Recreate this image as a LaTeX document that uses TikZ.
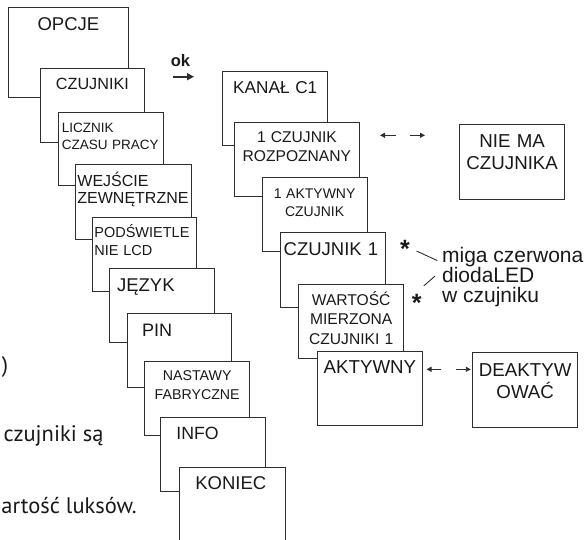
\documentclass[tikz,border=0pt]{standalone}
\usepackage{fontspec}
\setmainfont{Liberation Sans}
\newfontfamily\bodyfont{PT Sans}
\usepackage{xcolor}
\usepackage{tikz}
\usetikzlibrary{arrows.meta}
\definecolor{ink}{gray}{0.18}
\definecolor{txt}{gray}{0.1}
\tikzset{every node/.append style={text=txt}}

\begin{document}
\begin{tikzpicture}[x=1pt, y=-1pt, line width=0.8pt,
    menu/.style={draw=ink, fill=white, anchor=north west, inner sep=0pt, text width=105pt, align=center, text height=21.5pt, text depth=52.5pt},
    lft/.style={align=left, inner xsep=#1},
    big/.style={font=\fontsize{18.5}{22.4}\selectfont},
    mid/.style={font=\fontsize{15.6}{18.6}\selectfont},
    small/.style={font=\fontsize{14}{18.2}\selectfont},
    nav/.style={draw=ink, line width=0.9pt, -{Triangle[length=5pt, width=5pt]}},
    star/.style={font=\bfseries\fontsize{25}{25}\selectfont, inner sep=0pt, anchor=base},
    note/.style={font=\fontsize{21}{20}\selectfont, inner sep=0pt, anchor=base west},
    frag/.style={font=\bodyfont\fontsize{22.5}{26}\selectfont, inner sep=0pt}]
    \useasboundingbox (0,0) rectangle (587,539);
    % main menu, one box over the next
    \node[menu, big, text width=120pt, text height=23.5pt, text depth=66.5pt] (opcje) at (8,7) {OPCJE};
    \node[menu, font=\fontsize{16.2}{19}\selectfont, text width=104pt] (czujniki) at (40,68) {CZUJNIKI};
    \node[menu, lft=3.5pt, text width=98pt, font=\fontsize{13.5}{17}\selectfont, text height=20pt, text depth=53pt] (licznik) at (58,112) {LICZNIK\\CZASU PRACY};
    \node[menu, lft=2pt, text width=111.5pt, font=\fontsize{16}{17}\selectfont, text height=21.7pt, text depth=53.3pt] (wejscie) at (75,164) {WEJŚCIE\\ZEWNĘTRZNE};
    \node[menu, lft=2.3pt, text width=99.7pt, font=\fontsize{14.5}{17.6}\selectfont, text height=19.8pt, text depth=54.2pt] (podsw) at (91.7,217.3) {PODŚWIETLE\\NIE LCD};
    \node[menu, big, lft=7.7pt, text width=89.2pt, text height=22.3pt, text depth=51.7pt] (jezyk) at (109,268.3) {JĘZYK};
    \node[menu, lft=15pt, text width=74.3pt, font=\fontsize{18}{22}\selectfont, text height=23pt, text depth=51pt] (pin) at (126.7,313.3) {PIN};
    \node[menu, font=\fontsize{14.2}{18.3}\selectfont, text height=19.3pt, text depth=55pt] (nastawy) at (144.3,361) {NASTAWY\\FABRYCZNE};
    \node[menu, lft=16pt, text width=73.3pt, font=\fontsize{17.7}{21}\selectfont, text height=21.7pt, text depth=52.3pt] (info) at (160,417.3) {INFO};
    \node[menu, big, lft=15.7pt, text width=74pt, text height=22.5pt, text depth=57.5pt] (koniec) at (179.3,466.7) {KONIEC};
    % ok
    \node[font=\bfseries\fontsize{16.5}{18}\selectfont, inner sep=0pt, anchor=base] (ok) at (180.4,66.7) {ok};
    \coordinate (okA) at (172.7,76.7);
    \coordinate (okB) at (194,76.7);
    \draw[draw=ink, line width=1.6pt, -{Triangle[length=7pt, width=7pt]}] (okA) -- (okB);
    % sensor branch
    \node[menu, lft=10.5pt, text width=84pt, font=\fontsize{17.2}{20.6}\selectfont, text height=22.2pt, text depth=52.1pt] (kanal) at (222.3,70.7) {KANAŁ~C1};
    \node[menu, mid, text width=125pt, text height=20.6pt, text depth=53.7pt] (rozp) at (234,121.7) {1 CZUJNIK\\ROZPOZNANY};
    \node[menu, small, text height=21pt] (aktcz) at (261.7,177.3) {1 AKTYWNY\\CZUJNIK};
    \node[menu, big, lft=3.3pt, text width=98.4pt, text height=22.6pt, text depth=51.8pt] (cz1) at (280,232.3) {CZUJNIK~1};
    \node[menu, font=\fontsize{15.6}{19.5}\selectfont, text height=20.3pt, text depth=53.1pt] (wart) at (298.3,284.3) {WARTOŚĆ\\MIERZONA\\CZUJNIKI 1};
    \node[menu, font=\fontsize{18.7}{22.4}\selectfont, text width=104.4pt, text height=22.4pt, text depth=51.6pt] (aktyw) at (317.3,351) {AKTYWNY};
    \node[menu, font=\fontsize{18.7}{22.7}\selectfont, text height=22.7pt, text depth=52.3pt] (niema) at (459.3,124) {NIE MA\\CZUJNIKA};
    \node[menu, font=\fontsize{18.7}{22.4}\selectfont, text height=23.7pt, text depth=50.7pt] (deakt) at (472.3,352.3) {DEAKTYW\\OWAĆ};
    % left / right keys
    \coordinate (n1a) at (396,135.3);
    \coordinate (n1b) at (380,135.3);
    \coordinate (n1c) at (409.5,135.3);
    \coordinate (n1d) at (425,135.3);
    \coordinate (n2a) at (441,369.3);
    \coordinate (n2b) at (426.5,369.3);
    \coordinate (n2c) at (455.5,369.3);
    \coordinate (n2d) at (470.8,369.3);
    \foreach \a/\b in {n1a/n1b, n1c/n1d, n2a/n2b, n2c/n2d} \draw[nav] (\a) -- (\b);
    % red LED note
    \node[star] (st1) at (405,257.5) {*};
    \node[star] (st2) at (416.7,311) {*};
    \node[note] (miga) at (441.7,262.2) {miga czerwona};
    \node[note] (dioda) at (441.7,282.2) {diodaLED};
    \node[note] (wczuj) at (441.7,302.2) {w czujniku};
    \draw[ink, line width=0.9pt] ([shift={(6.4,2.2)}]st1.east) -- ([shift={(-4.4,3.8)}]miga.west);
    \draw[ink, line width=0.9pt] ([shift={(1.8,-7.5)}]st2.north east) -- ([shift={(-6.7,1.4)}]dioda.west);
    % cut-off body text at the left edge
    \node[frag, anchor=base east] (fr1) at (8.5,372.6) {)};
    \node[frag, anchor=base west] (fr2) at (3.3,441.7) {czujniki są};
    \node[frag, anchor=base west] (fr3) at (1,513) {artość luksów.};
\end{tikzpicture}
\end{document}
